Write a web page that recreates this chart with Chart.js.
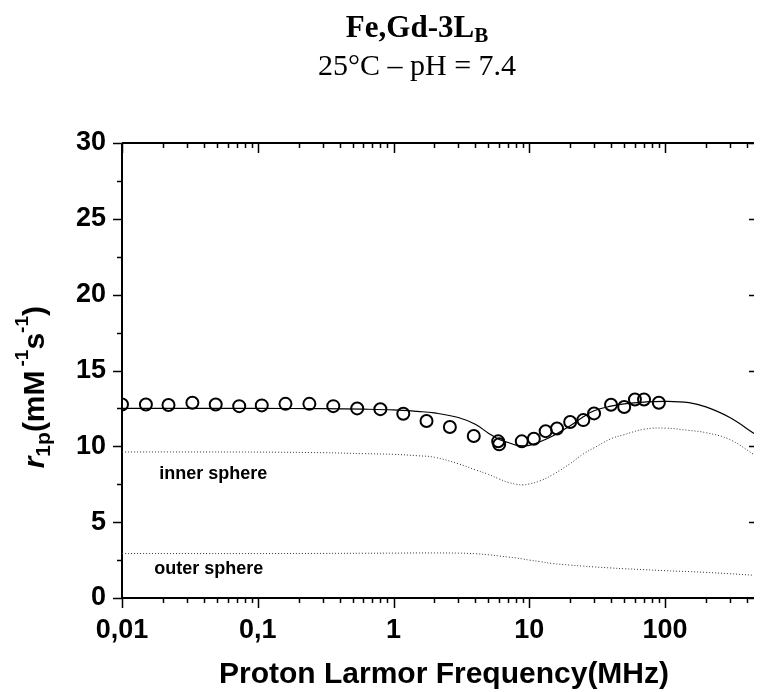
<!DOCTYPE html>
<html>
<head>
  <title>Fe,Gd-3LB - NMRD 25°C</title>
  <script src="https://cdn.jsdelivr.net/npm/chart.js"></script>
  <style>
    body {
      margin: 0;
      background-color: #fff;
    }
    #wrap {
      position: relative;
      width: 762px;
      height: 692px;
    }
  </style>
</head>
<body>
  <div id="wrap">
    <canvas id="nmrd" width="762" height="692"></canvas>
  </div>

  <script>
    // measured relaxivity (open circles)
    const freqMHz = [0.01, 0.015, 0.022, 0.033, 0.049, 0.073, 0.107, 0.16, 0.24, 0.36, 0.54, 0.8,
                     1.18, 1.75, 2.6, 3.9, 5.9, 6.0, 8.8, 10.8, 13.2, 16, 20, 25, 30, 40, 50, 60, 70, 90];
    const r1p = [12.76, 12.76, 12.73, 12.87, 12.76, 12.65, 12.7, 12.8, 12.8, 12.65, 12.5, 12.45,
                 12.15, 11.67, 11.27, 10.68, 10.33, 10.13, 10.33, 10.5, 11.0, 11.18, 11.6, 11.73, 12.17, 12.74, 12.59, 13.09, 13.09, 12.87];

    // fitted profile and its inner / outer sphere parts
    const curveFreq = [0.01, 0.03, 0.1, 0.3, 0.6, 1, 1.5, 2, 3, 4, 5, 6, 7, 8, 9, 10, 12, 15, 20, 25, 30,
                       40, 50, 70, 100, 150, 200, 300, 452];
    const totalFit = [12.5, 12.5, 12.5, 12.48, 12.45, 12.4, 12.3, 12.2, 11.9, 11.45, 10.87, 10.45, 10.25, 10.08, 10.03, 10.06, 10.3, 10.7, 11.35, 11.95, 12.35,
                      12.65, 12.8, 12.92, 12.97, 12.88, 12.6, 11.9, 10.85];
    const innerSphere = [9.63, 9.63, 9.62, 9.58, 9.52, 9.47, 9.38, 9.28, 8.85, 8.45, 8.15, 7.85, 7.62, 7.5, 7.46, 7.52, 7.72, 8.15, 8.86, 9.5, 9.9,
                         10.5, 10.77, 11.13, 11.2, 11.05, 10.9, 10.45, 9.45];
    const outerSphere = [2.93, 2.93, 2.93, 2.94, 2.95, 2.96, 2.97, 2.97, 2.96, 2.92, 2.85, 2.77, 2.7, 2.64, 2.57, 2.5, 2.4, 2.27, 2.17, 2.1, 2.05,
                         1.98, 1.93, 1.87, 1.8, 1.74, 1.69, 1.6, 1.5];

    const xTickValues = [0.01, 0.1, 1, 10, 100];
    const xTickLabels = ['0,01', '0,1', '1', '10', '100'];
    const yTickValues = [0, 5, 10, 15, 20, 25, 30];

    const sans = '"Liberation Sans", Arial, sans-serif';
    const serif = '"Liberation Serif", "Times New Roman", serif';

    function pts(xs, ys) {
      return xs.map((f, i) => ({ x: f, y: ys[i] }));
    }

    // write a run of text pieces (size, style, baseline shift) one after another
    function richText(ctx, parts, x, y) {
      let cx = x;
      parts.forEach(p => {
        ctx.font = p.font;
        ctx.fillText(p.text, cx, y + (p.dy || 0));
        cx += ctx.measureText(p.text).width + (p.gap || 0);
      });
    }
    function richWidth(ctx, parts) {
      let w = 0;
      parts.forEach(p => {
        ctx.font = p.font;
        w += ctx.measureText(p.text).width + (p.gap || 0);
      });
      return w;
    }

    // axes frame, log ticks, titles and curve labels
    const decorations = {
      id: 'decorations',
      beforeDatasetsDraw(chart) {
        const ctx = chart.ctx;
        const a = chart.chartArea;
        const x = chart.scales.x;
        const y = chart.scales.y;

        ctx.save();
        ctx.strokeStyle = '#000';
        ctx.lineWidth = 2;
        ctx.beginPath();
        ctx.moveTo(a.left, a.top);
        ctx.lineTo(a.left, a.bottom);
        ctx.lineTo(a.right, a.bottom);
        ctx.moveTo(a.left, a.top);
        ctx.lineTo(a.right, a.top);
        ctx.stroke();

        ctx.lineWidth = 1.5;
        ctx.beginPath();
        for (let e = -2; e <= 2; e++) {
          for (let m = 1; m <= 9; m++) {
            const v = m * Math.pow(10, e);
            if (v > x.max) break;
            const px = Math.round(x.getPixelForValue(v)) + 0.5;
            const len = m === 1 ? 10 : 5;
            ctx.moveTo(px, a.bottom);
            ctx.lineTo(px, a.bottom + len);
            ctx.moveTo(px, a.top);
            ctx.lineTo(px, a.top + len);
          }
        }
        for (let v = 0; v <= 30; v += 2.5) {
          const py = Math.round(y.getPixelForValue(v)) + 0.5;
          const major = v % 5 === 0;
          ctx.moveTo(a.left - (major ? 9 : 5), py);
          ctx.lineTo(a.left, py);
          if (major) {
            ctx.moveTo(a.right - 5, py);
            ctx.lineTo(a.right, py);
          }
        }
        ctx.stroke();

        // curve labels
        ctx.fillStyle = '#000';
        ctx.textBaseline = 'alphabetic';
        ctx.textAlign = 'left';
        ctx.font = 'bold 18px ' + sans;
        ctx.fillText('inner sphere', x.getPixelForValue(0.0188), y.getPixelForValue(7.86));
        ctx.fillText('outer sphere', x.getPixelForValue(0.0173), y.getPixelForValue(1.55));

        // title
        const t1 = [
          { text: 'Fe,Gd-3L', font: 'bold 31px ' + serif },
          { text: 'B', font: 'bold 21px ' + serif, dy: 5 }
        ];
        richText(ctx, t1, 417 - richWidth(ctx, t1) / 2, 37);
        ctx.font = '30px ' + serif;
        ctx.textAlign = 'center';
        ctx.fillText('25°C \u2013 pH = 7.4', 417, 75);

        // x axis title
        ctx.font = 'bold 30px ' + sans;
        ctx.fillText('Proton Larmor Frequency(MHz)', 444, 683);

        // y axis title, rotated
        ctx.textAlign = 'left';
        const yt = [
          { text: 'r', font: 'italic bold 30px ' + sans },
          { text: '1p', font: 'bold 21px ' + sans, dy: 6 },
          { text: '(mM', font: 'bold 30px ' + sans, gap: 4 },
          { text: '-1', font: 'bold 19px ' + sans, dy: -16 },
          { text: 's', font: 'bold 30px ' + sans },
          { text: '-1', font: 'bold 19px ' + sans, dy: -16 },
          { text: ')', font: 'bold 30px ' + sans }
        ];
        const w = richWidth(ctx, yt);
        ctx.translate(44, 306 + w);
        ctx.rotate(-Math.PI / 2);
        richText(ctx, yt, 0, 0);
        ctx.restore();
      }
    };

    const ctx = document.getElementById('nmrd').getContext('2d');

    new Chart(ctx, {
      type: 'scatter',
      data: {
        datasets: [
          {
            label: 'inner sphere',
            data: pts(curveFreq, innerSphere),
            showLine: true,
            borderColor: '#333',
            borderWidth: 1,
            borderDash: [1, 2],
            pointRadius: 0,
            tension: 0.4
          },
          {
            label: 'outer sphere',
            data: pts(curveFreq, outerSphere),
            showLine: true,
            borderColor: '#333',
            borderWidth: 1,
            borderDash: [1, 2],
            pointRadius: 0,
            tension: 0.4
          },
          {
            label: 'fit',
            data: pts(curveFreq, totalFit),
            showLine: true,
            borderColor: '#000',
            borderWidth: 1.2,
            pointRadius: 0,
            tension: 0.4
          },
          {
            label: 'r1p',
            data: pts(freqMHz, r1p),
            showLine: false,
            pointStyle: 'circle',
            pointRadius: 6,
            borderWidth: 2,
            borderColor: '#000',
            backgroundColor: 'rgba(0,0,0,0)'
          }
        ]
      },
      options: {
        responsive: false,
        animation: false,
        devicePixelRatio: 1,
        layout: { padding: { top: 143, right: 0, left: 0, bottom: 0 } },
        plugins: {
          legend: { display: false },
          tooltip: { enabled: false }
        },
        scales: {
          x: {
            type: 'logarithmic',
            min: 0.01,
            max: 452,
            grid: { display: false, drawTicks: false },
            border: { display: false },
            afterBuildTicks: s => { s.ticks = xTickValues.map(v => ({ value: v })); },
            afterFit: s => { s.height = 94; },
            ticks: {
              autoSkip: false,
              maxRotation: 0,
              padding: 16,
              color: '#000',
              font: { family: sans, size: 27, weight: 'bold' },
              callback: (v, i) => xTickLabels[i]
            }
          },
          y: {
            min: 0,
            max: 30,
            grid: { display: false, drawTicks: false },
            border: { display: false },
            afterBuildTicks: s => { s.ticks = yTickValues.map(v => ({ value: v })); },
            afterFit: s => { s.width = 122; },
            ticks: {
              padding: 16,
              color: '#000',
              font: { family: sans, size: 27, weight: 'bold' }
            }
          }
        }
      },
      plugins: [decorations]
    });
  </script>
</body>
</html>
